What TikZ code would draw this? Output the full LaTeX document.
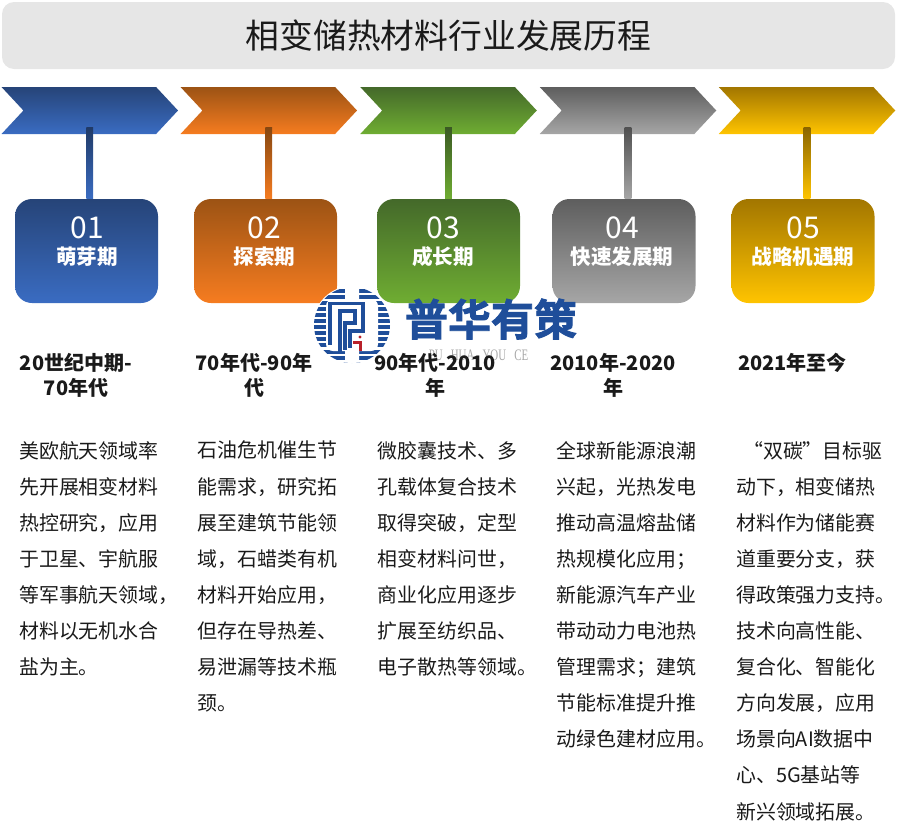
\documentclass[tikz,border=0pt]{standalone}
\usepackage{fontspec}
\setmainfont{Noto Sans CJK SC}
\newfontfamily\logofont[FakeBold=2]{Noto Sans CJK SC Bold}
\newfontfamily\latinfont[FakeStretch=0.68]{Liberation Serif}
\usetikzlibrary{shapes.symbols}
\definecolor{ink}{HTML}{1A1A1A}
\definecolor{barfill}{HTML}{E6E6E6}
\definecolor{logoblue}{HTML}{1F4E9A}
\definecolor{logored}{HTML}{B8202A}
\definecolor{logogrey}{HTML}{A8A8A8}
\definecolor{blueT}{HTML}{264478}
\definecolor{blueB}{HTML}{3A6CC2}
\definecolor{orangeT}{HTML}{9C5314}
\definecolor{orangeB}{HTML}{F67C20}
\definecolor{greenT}{HTML}{44692A}
\definecolor{greenB}{HTML}{6FAD32}
\definecolor{greyT}{HTML}{5E5E5E}
\definecolor{greyB}{HTML}{A6A6A6}
\definecolor{goldT}{HTML}{A27600}
\definecolor{goldB}{HTML}{FFC400}

\begin{document}
\begin{tikzpicture}[
    x=1pt, y=-1pt, color=ink,
    banner/.style={shape=signal, signal to=east, signal from=west, signal pointer angle=94,
                   minimum width=176.5pt, minimum height=47pt, inner sep=0pt},
    stagebox/.style={rounded corners=17pt, minimum width=143pt, minimum height=104pt, inner sep=0pt},
    numlab/.style={font=\fontsize{30}{32}\selectfont, text=white},
    namelab/.style={font=\fontsize{20.6}{22}\selectfont\bfseries, text=white},
    datelab/.style={font=\fontsize{20}{25}\selectfont\bfseries, align=center, text=ink, inner sep=0pt},
    bodytxt/.style={font=\fontsize{19.9}{36.1}\selectfont, align=left, anchor=north west, text=ink, inner sep=0pt}]
  % fixed canvas, same size as the reference in pixels
  \path[use as bounding box] (0,0) rectangle (908,836);

  % ================= title bar =================
  \node[fill=barfill, rounded corners=12pt, minimum width=893pt, minimum height=67pt, inner sep=0pt,
        font=\fontsize{33.8}{36}\selectfont] (titlebar) at (448.5,35.5) {相变储热材料行业发展历程};

  % ================= banners, stems and stage boxes =================
  \foreach \i/\xa/\xb/\xn/\num/\nm/\ctop/\cbot in {
      1/89.75/86.5/87/01/萌芽期/blueT/blueB,
      2/268.75/265.5/264.5/02/探索期/orangeT/orangeB,
      3/448.5/448.5/443/03/成长期/greenT/greenB,
      4/628/624/622/04/快速发展期/greyT/greyB,
      5/807/803/803/05/战略机遇期/goldT/goldB} {
    \node[banner, top color=\ctop, bottom color=\cbot] (ban\i) at (\xa,110.5) {};
    \node[stagebox, top color=\ctop, bottom color=\cbot] (box\i) at (\xb,251) {};
    % stem runs from the banner down to the box
    \path[top color=\ctop!85!black, bottom color=\cbot]
      ([xshift=-3.3pt,yshift=7pt]ban\i.south) rectangle ([xshift=3.3pt]ban\i.south |- box\i.north);
    \node[numlab] (num\i) at (\xn,228) {\num};
    \node[namelab] (name\i) at (\xn,257) {\nm};
  }

  % ================= logo =================
  \fill[white] (352,325) circle (39);
  \begin{scope}
    \clip (352,325) circle (38);
    \foreach \y in {288.5,294.6,...,364}
      \fill[logoblue] (310,\y) rectangle (394,\y+4);
    % white inside of the ring, with a gap at top and bottom
    \fill[white, rounded corners=7pt] (326,299) rectangle (378,351);
    \fill[white] (345,285) rectangle (359,299) (345,351) rectangle (359,365);
  \end{scope}
  \draw[logoblue, line width=3.4pt] (330,345) -- (330,303.5) -- (363,303.5) -- (363,331) -- (350,331) -- (350,348);
  \draw[logoblue, line width=3.4pt] (340,353) -- (340,311) -- (355,311) -- (355,323) -- (345,323) -- (345,350);
  \fill[logored] (360,337) circle (1.6);
  \draw[logored, line width=3pt] (353,342) -- (360,342) -- (360,351);
  \node[font=\logofont\fontsize{43}{45}\selectfont, text=logoblue, inner sep=0pt] (logotxt) at (491,319) {普华有策};
  \node[font=\latinfont\fontsize{16}{18}\selectfont, text=logogrey, inner sep=0pt] (logosub) at (478.5,355)
    {PU\ \ \ HUA\ \ \ YOU\ \ \ CE};

  % ================= dates =================
  \node[datelab] (date1) at (76,375.5) {20世纪中期-\\70年代};
  \node[datelab] (date2) at (254,375.5) {70年代-90年\\代};
  \node[datelab] (date3) at (435,375.5) {90年代-2010\\年};
  \node[datelab] (date4) at (613,375.5) {2010年-2020\\年};
  \node[datelab, anchor=west] (date5) at (738,363) {2021年至今};

  % ================= body text =================
  \node[bodytxt] (txt1) at (19,441) {美欧航天领域率\\先开展相变材料\\热控研究，应用\\于卫星、宇航服\\等军事航天领域，\\材料以无机水合\\盐为主。};
  \node[bodytxt] (txt2) at (197.5,441) {石油危机催生节\\能需求，研究拓\\展至建筑节能领\\域，石蜡类有机\\材料开始应用，\\但存在导热差、\\易泄漏等技术瓶\\颈。};
  \node[bodytxt] (txt3) at (377.5,441) {微胶囊技术、多\\孔载体复合技术\\取得突破，定型\\相变材料问世，\\商业化应用逐步\\扩展至纺织品、\\电子散热等领域。};
  \node[bodytxt] (txt4) at (556.5,441) {全球新能源浪潮\\兴起，光热发电\\推动高温熔盐储\\热规模化应用；\\新能源汽车产业\\带动动力电池热\\管理需求；建筑\\节能标准提升推\\动绿色建材应用。};
  \node[bodytxt] (txt5) at (736,441) {\hspace*{7pt}“双碳”目标驱\\动下，相变储热\\材料作为储能赛\\道重要分支，获\\得政策强力支持。\\技术向高性能、\\复合化、智能化\\方向发展，应用\\场景向AI数据中\\心、5G基站等\\新兴领域拓展。};
\end{tikzpicture}
\end{document}
